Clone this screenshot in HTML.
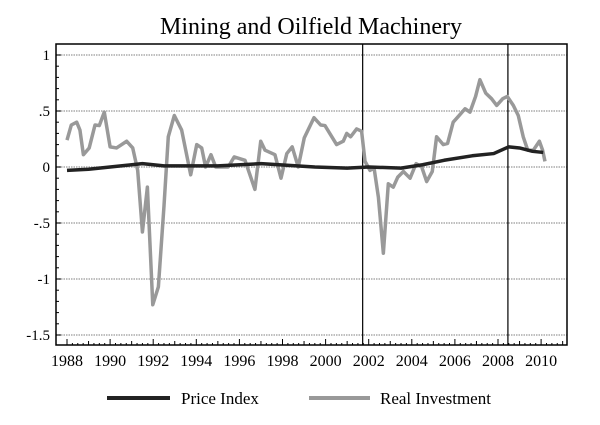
<!DOCTYPE html>
<html><head><meta charset="utf-8"><style>
body{margin:0;background:#fff;}
svg text{font-family:"Liberation Serif",serif;fill:#000;}
</style></head><body>
<svg width="600" height="420" viewBox="0 0 600 420">
<text x="311" y="34" text-anchor="middle" font-size="24">Mining and Oilfield Machinery</text>
<g id="grid"></g>
<g id="axes"></g>
<g id="series"></g>
<g>
<line x1="107" y1="398" x2="170" y2="398" stroke="#222" stroke-width="4"/>
<text x="181" y="404" font-size="17">Price Index</text>
<line x1="309" y1="398" x2="370" y2="398" stroke="#999" stroke-width="4"/>
<text x="380" y="404" font-size="17">Real Investment</text>
</g>
</svg>
<script>
const yTicks=[1,0.5,0,-0.5,-1,-1.5];
const yTickLabels=["1",".5","0","-.5","-1","-1.5"];
const xTickYears=[1988,1990,1992,1994,1996,1998,2000,2002,2004,2006,2008,2010];
const breakYears=[2001.72,2008.46];
const invYears=[1988.0,1988.2,1988.45,1988.6,1988.76,1989.03,1989.3,1989.5,1989.73,1990.0,1990.3,1990.77,1991.05,1991.28,1991.5,1991.73,1991.98,1992.24,1992.5,1992.7,1992.98,1993.32,1993.74,1994.02,1994.25,1994.43,1994.68,1994.9,1995.48,1995.76,1996.26,1996.72,1996.99,1997.19,1997.65,1997.93,1998.2,1998.45,1998.73,1999.01,1999.46,1999.77,1999.97,2000.51,2000.82,2000.98,2001.16,2001.44,2001.67,2001.83,2002.06,2002.25,2002.45,2002.68,2002.91,2003.14,2003.35,2003.61,2003.92,2004.2,2004.46,2004.69,2004.95,2005.15,2005.46,2005.66,2005.92,2006.2,2006.47,2006.7,2006.96,2007.16,2007.43,2007.7,2007.94,2008.22,2008.43,2008.71,2008.94,2009.17,2009.38,2009.64,2009.92,2010.07,2010.18];
const invValues=[0.24,0.375,0.40,0.33,0.11,0.17,0.375,0.37,0.49,0.18,0.17,0.23,0.17,-0.03,-0.58,-0.18,-1.23,-1.07,-0.35,0.27,0.46,0.33,-0.07,0.2,0.17,0.0,0.11,0.0,0.0,0.09,0.06,-0.2,0.23,0.15,0.11,-0.1,0.12,0.18,0.0,0.26,0.44,0.375,0.37,0.2,0.23,0.3,0.27,0.34,0.32,0.05,-0.03,-0.01,-0.27,-0.77,-0.15,-0.18,-0.09,-0.04,-0.1,0.03,0.0,-0.13,-0.04,0.27,0.2,0.21,0.4,0.46,0.52,0.49,0.63,0.78,0.66,0.61,0.55,0.61,0.63,0.55,0.46,0.27,0.15,0.15,0.23,0.15,0.05];
const priceYears=[1988,1989,1990,1991.5,1992.5,1995,1997,1999.5,2001,2002,2003.5,2004.5,2005.5,2006.8,2007.8,2008.5,2009,2009.6,2010.1];
const priceValues=[-0.03,-0.02,0,0.03,0.01,0.01,0.03,0,-0.01,0,-0.01,0.02,0.06,0.1,0.12,0.18,0.17,0.14,0.13];

const L=56,R=567,T=44,B=345;
const X=y=>67+(y-1988)*21.55;
const Y=v=>167-v*112;
const NS="http://www.w3.org/2000/svg";
function mk(tag,attrs,parent){const e=document.createElementNS(NS,tag);for(const k in attrs)e.setAttribute(k,attrs[k]);parent.appendChild(e);return e;}
const grid=document.getElementById('grid'),axes=document.getElementById('axes'),series=document.getElementById('series');
yTicks.forEach((v,i)=>{
  const g=mk('line',{x1:L,x2:R,y1:Y(v),y2:Y(v),stroke:'#aaa','stroke-width':1.5,'stroke-dasharray':'1.5 1'},grid);
  
  
  const t=mk('text',{x:L-6,y:Y(v)+5,'text-anchor':'end','font-size':15},axes);
  t.textContent=yTickLabels[i];
  
  
  mk('line',{x1:L,x2:L+5,y1:Y(v),y2:Y(v),stroke:'#000'},axes);
});
for(let v=-1.5;v<=1.0001;v+=0.1){mk('line',{x1:L,x2:L+3,y1:Y(v),y2:Y(v),stroke:'#000'},axes);}
for(let yr=1988;yr<=2011;yr+=0.25){const maj=Math.abs(yr-Math.round(yr))<1e-6;mk('line',{x1:X(yr),x2:X(yr),y1:B,y2:B-(maj?(Math.round(yr)%2===0?6:4):2),stroke:'#000'},axes);}
xTickYears.forEach(yr=>{
  const t=mk('text',{x:X(yr),y:366,'text-anchor':'middle','font-size':16},axes);
  t.textContent=String(yr);
  
  
});
const frame=mk('rect',{x:L,y:T,width:R-L,height:B-T,fill:'none',stroke:'#000','stroke-width':1.5},axes);


breakYears.forEach(yr=>{
  const l=mk('line',{x1:X(yr),x2:X(yr),y1:T,y2:B,stroke:'#000','stroke-width':1.2},axes);
  
  
});
const inv=mk('polyline',{points:invYears.map((y,i)=>X(y)+','+Y(invValues[i])).join(' '),fill:'none',stroke:'#999','stroke-width':3.5,'stroke-linejoin':'round'},series);


const pr=mk('polyline',{points:priceYears.map((y,i)=>X(y)+','+Y(priceValues[i])).join(' '),fill:'none',stroke:'#222','stroke-width':3.5,'stroke-linejoin':'round'},series);


</script>
</body></html>
